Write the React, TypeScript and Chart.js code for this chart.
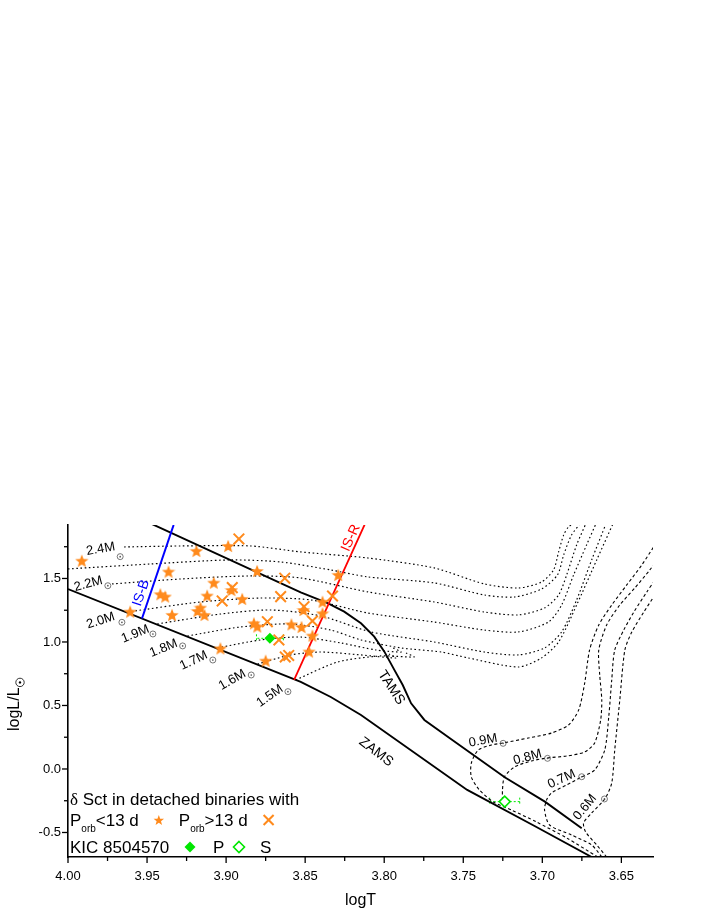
import React, { useEffect, useRef } from 'react';
import { Chart, registerables } from 'chart.js';
Chart.register(...registerables);

// ---------- axis ----------
const xMin = 3.63, xMax = 4.0, yMin = -0.693, yMax = 1.921;
const xTickVals = [3.65, 3.7, 3.75, 3.8, 3.85, 3.9, 3.95, 4.0];
const xTickLabels = ['3.65', '3.70', '3.75', '3.80', '3.85', '3.90', '3.95', '4.00'];
const xMinorVals = [3.675, 3.725, 3.775, 3.825, 3.875, 3.925, 3.975];
const yTickVals = [-0.5, 0, 0.5, 1.0, 1.5];
const yTickLabels = ['-0.5', '0.0', '0.5', '1.0', '1.5'];
const yMinorVals = [-0.25, 0.25, 0.75, 1.25, 1.75];

// ---------- stars: delta Sct in binaries, Porb < 13 d ----------
const starT = [3.9913, 3.9188, 3.8987, 3.8804, 3.9364, 3.9078, 3.9416, 3.9385, 3.912, 3.8898, 3.9162, 3.9181, 3.9342, 3.9137, 3.9607, 3.8824, 3.8803, 3.8587, 3.8523, 3.9036, 3.875, 3.8291, 3.839, 3.8511, 3.839, 3.8454, 3.8475, 3.8966];
const starL = [1.64, 1.717, 1.756, 1.559, 1.554, 1.467, 1.376, 1.358, 1.365, 1.339, 1.27, 1.244, 1.213, 1.213, 1.239, 1.147, 1.122, 1.139, 1.118, 0.95, 0.853, 1.528, 1.317, 1.252, 1.226, 1.05, 0.925, 1.409];
// ---------- crosses: Porb > 13 d ----------
const crossT = [3.8919, 3.8629, 3.8961, 3.9025, 3.8655, 3.8739, 3.8507, 3.8666, 3.8626, 3.8604, 3.8327, 3.8454];
const crossL = [1.811, 1.502, 1.428, 1.323, 1.357, 1.16, 1.278, 1.016, 0.882, 0.894, 1.362, 1.165];
// ---------- KIC 8504570 ----------
const kicPT = [3.8723], kicPL = [1.029], kicPErr = [0.0085];
const kicST = [3.7238], kicSL = [-0.257], kicSErr = [0.0095];

// ---------- ZAMS / TAMS ----------
const zamsT = [4.0, 3.8528, 3.8338, 3.8147, 3.7475, 3.7049, 3.6688];
const zamsL = [1.417, 0.685, 0.567, 0.425, -0.165, -0.449, -0.693];
const tamsT = [3.947, 3.8528, 3.8358, 3.8253, 3.8147, 3.8063, 3.7999, 3.7936, 3.7883, 3.783, 3.7746, 3.7576, 3.7238, 3.6984, 3.6751];
const tamsL = [1.929, 1.391, 1.305, 1.239, 1.147, 1.042, 0.924, 0.78, 0.661, 0.517, 0.386, 0.234, -0.065, -0.257, -0.467];

// ---------- instability strip edges ----------
const isBT = [3.9532, 3.9332], isBL = [1.185, 1.921];
const isRT = [3.857, 3.8122], isRL = [0.701, 1.929];

// ---------- evolutionary tracks (upper, dotted) ----------
const trk24T = [3.9645, 3.9289, 3.8845, 3.8528, 3.8103, 3.7684, 3.7367, 3.7151, 3.7005, 3.6929, 3.6897, 3.6865, 3.6834, 3.6783];
const trk24L = [1.748, 1.756, 1.756, 1.709, 1.661, 1.583, 1.457, 1.425, 1.472, 1.567, 1.709, 1.843, 1.906, 1.945];
const trkXT = [4.0, 3.948, 3.8972, 3.8655, 3.8338, 3.8103, 3.7684, 3.7367, 3.7176, 3.7005, 3.6904, 3.6865, 3.6815, 3.6751];
const trkXL = [1.575, 1.614, 1.646, 1.63, 1.567, 1.512, 1.465, 1.37, 1.354, 1.417, 1.528, 1.685, 1.843, 1.945];
const trk22T = [3.9721, 3.9289, 3.8845, 3.8528, 3.8103, 3.7684, 3.7367, 3.7151, 3.6986, 3.6897, 3.6846, 3.6783, 3.672];
const trk22L = [1.457, 1.496, 1.52, 1.504, 1.394, 1.315, 1.236, 1.213, 1.268, 1.37, 1.528, 1.764, 1.945];
const trk20T = [3.9626, 3.9162, 3.8782, 3.8464, 3.8103, 3.7684, 3.7367, 3.7151, 3.6961, 3.6878, 3.6802, 3.672, 3.6656];
const trk20L = [1.236, 1.315, 1.346, 1.331, 1.228, 1.157, 1.094, 1.079, 1.157, 1.291, 1.528, 1.764, 1.945];
const trk19T = [3.9435, 3.9036, 3.8718, 3.8401, 3.8084, 3.7684, 3.7367, 3.7151, 3.6986, 3.6878, 3.6783, 3.6688, 3.6593];
const trk19L = [1.142, 1.22, 1.252, 1.205, 1.079, 1.0, 0.921, 0.898, 0.953, 1.079, 1.331, 1.646, 1.945];
const trk18T = [3.9245, 3.8909, 3.8591, 3.8338, 3.8147, 3.7893, 3.764, 3.7468, 3.7151, 3.7005, 3.6897, 3.6783, 3.6656, 3.6548];
const trk18L = [1.047, 1.118, 1.142, 1.094, 1.016, 0.953, 0.921, 0.874, 0.803, 0.874, 1.0, 1.291, 1.646, 1.945];
const trk17T = [3.9055, 3.8782, 3.8528, 3.8274, 3.8052, 3.7893, 3.7944];
const trk17L = [0.953, 1.016, 1.039, 0.992, 0.937, 0.921, 0.953];
const trk16T = [3.8801, 3.8591, 3.8401, 3.8147, 3.7925, 3.797];
const trk16L = [0.827, 0.898, 0.921, 0.898, 0.874, 0.906];
const trk15T = [3.856, 3.8293, 3.802, 3.7811, 3.7862];
const trk15L = [0.701, 0.843, 0.89, 0.882, 0.913];

// ---------- low-mass tracks (dashed) ----------
const trk09T = [3.665, 3.6846, 3.7037, 3.7195, 3.731, 3.7398, 3.7449, 3.7449, 3.7405, 3.7322, 3.7246, 3.7088, 3.6942, 3.6834, 3.677, 3.6732, 3.6701, 3.6643, 3.6561, 3.6466, 3.6371, 3.6288];
const trk09L = [-0.693, -0.543, -0.417, -0.323, -0.26, -0.165, -0.063, 0.047, 0.15, 0.189, 0.205, 0.244, 0.283, 0.346, 0.465, 0.677, 0.937, 1.134, 1.291, 1.449, 1.606, 1.764];
const trk08T = [3.7252, 3.7252, 3.724, 3.7176, 3.7069, 3.6967, 3.6846, 3.6732, 3.6669, 3.6631, 3.6624, 3.6637, 3.6643, 3.6593, 3.651, 3.6415, 3.632, 3.6288];
const trk08L = [-0.244, -0.165, -0.063, 0.016, 0.063, 0.087, 0.102, 0.134, 0.205, 0.386, 0.543, 0.74, 0.937, 1.134, 1.291, 1.425, 1.567, 1.622];
const trk07T = [3.6624, 3.6688, 3.6815, 3.6954, 3.6986, 3.6973, 3.6942, 3.6846, 3.6751, 3.6669, 3.6605, 3.658, 3.6561, 3.6542, 3.6485, 3.6421, 3.6339, 3.6288];
const trk07L = [-0.693, -0.598, -0.52, -0.441, -0.323, -0.244, -0.189, -0.126, -0.063, -0.008, 0.15, 0.409, 0.701, 0.937, 1.094, 1.236, 1.394, 1.488];
const trk06T = [3.6593, 3.6656, 3.6726, 3.6739, 3.6688, 3.6605, 3.6561, 3.6542, 3.651, 3.6478, 3.6434, 3.6358, 3.6288];
const trk06L = [-0.693, -0.598, -0.496, -0.425, -0.346, -0.236, -0.11, 0.15, 0.543, 0.937, 1.079, 1.236, 1.37];

// ---------- text annotations ----------
const massLabels = ['2.4M', '2.2M', '2.0M', '1.9M', '1.8M', '1.7M', '1.6M', '1.5M', '0.9M', '0.8M', '0.7M', '0.6M'];
const massLabelT = [3.9793, 3.9871, 3.9793, 3.9575, 3.9395, 3.9205, 3.8961, 3.8723, 3.7375, 3.7094, 3.6878, 3.673];
const massLabelL = [1.732, 1.457, 1.168, 1.063, 0.95, 0.853, 0.701, 0.575, 0.223, 0.092, -0.081, -0.302];
const massLabelAngle = [-10, -15, -18, -22, -22, -25, -30, -35, -10, -15, -25, -50];
const sunT = [3.967, 3.9748, 3.9659, 3.9463, 3.9275, 3.9084, 3.8841, 3.8609, 3.7248, 3.6967, 3.6751, 3.6607];
const sunL = [1.672, 1.443, 1.155, 1.063, 0.969, 0.858, 0.74, 0.609, 0.202, 0.084, -0.061, -0.236];

const FONT = '"Liberation Sans", Arial, Helvetica, sans-serif';
const ORANGE = '#ff8a1c';
const GREEN = '#00e600';

const pts = (t: number[], l: number[]) => t.map((v, i) => ({ x: v, y: l[i] }));

function starPath(ctx: CanvasRenderingContext2D, cx: number, cy: number, R: number) {
  const r = R * 0.42;
  ctx.beginPath();
  for (let i = 0; i < 10; i++) {
    const a = -Math.PI / 2 + (i * Math.PI) / 5;
    const rr = i % 2 ? r : R;
    ctx.lineTo(cx + rr * Math.cos(a), cy + rr * Math.sin(a));
  }
  ctx.closePath();
}

function makeStar(size: number) {
  const c = document.createElement('canvas');
  c.width = size; c.height = size;
  const g = c.getContext('2d')!;
  g.fillStyle = ORANGE;
  starPath(g, size / 2, size / 2 + 0.7, size / 2);
  g.fill();
  return c;
}

function sunSymbol(ctx: CanvasRenderingContext2D, x: number, y: number, r: number, color: string) {
  ctx.save();
  ctx.strokeStyle = color; ctx.fillStyle = color; ctx.lineWidth = 0.8; ctx.setLineDash([]);
  ctx.beginPath(); ctx.arc(x, y, r, 0, Math.PI * 2); ctx.stroke();
  ctx.beginPath(); ctx.arc(x, y, Math.max(0.7, r * 0.28), 0, Math.PI * 2); ctx.fill();
  ctx.restore();
}

const annotPlugin = {
  id: 'annot',
  beforeDatasetsDraw(chart: any) {
    const ctx = chart.ctx, xs = chart.scales.x, ys = chart.scales.y;
    ctx.save();
    ctx.strokeStyle = GREEN; ctx.lineWidth = 1; ctx.setLineDash([2, 2]);
    const bars = [[kicPT, kicPL, kicPErr], [kicST, kicSL, kicSErr]];
    bars.forEach(([t, l, e]) => {
      t.forEach((tv: number, i: number) => {
        const x1 = xs.getPixelForValue(tv - e[i]), x2 = xs.getPixelForValue(tv + e[i]), y = ys.getPixelForValue(l[i]);
        ctx.beginPath(); ctx.moveTo(x1, y); ctx.lineTo(x2, y); ctx.stroke();
        [x1, x2].forEach((xx) => { ctx.beginPath(); ctx.moveTo(xx, y - 4); ctx.lineTo(xx, y + 4); ctx.stroke(); });
      });
    });
    ctx.restore();
  },
  afterDatasetsDraw(chart: any) {
    const ctx = chart.ctx, xs = chart.scales.x, ys = chart.scales.y;
    const P = (t: number, l: number) => [xs.getPixelForValue(t), ys.getPixelForValue(l)];
    ctx.save();
    ctx.textAlign = 'center'; ctx.textBaseline = 'middle';
    const rotText = (txt: string, t: number, l: number, deg: number, font: string, color: string) => {
      const [x, y] = P(t, l);
      ctx.save(); ctx.translate(x, y); ctx.rotate((deg * Math.PI) / 180);
      ctx.font = font; ctx.fillStyle = color; ctx.fillText(txt, 0, 0); ctx.restore();
    };
    massLabels.forEach((m, i) => {
      rotText(m, massLabelT[i], massLabelL[i], massLabelAngle[i], `13px ${FONT}`, '#000');
      const [sx, sy] = P(sunT[i], sunL[i]);
      sunSymbol(ctx, sx, sy, 3, '#555');
    });
    rotText('TAMS', 3.7955, 0.64, 57, `14px ${FONT}`, '#000');
    rotText('ZAMS', 3.8052, 0.134, 37, `14px ${FONT}`, '#000');
    rotText('IS-B', 3.9537, 1.386, -71, `14px ${FONT}`, '#0000ff');
    rotText('IS-R', 3.8211, 1.819, -66, `14px ${FONT}`, '#ff0000');
    ctx.restore();
  },
  afterDraw(chart: any) {
    const ctx = chart.ctx, xs = chart.scales.x, ys = chart.scales.y;
    const { left, bottom } = chart.chartArea;
    ctx.save();
    ctx.strokeStyle = '#000'; ctx.lineWidth = 1.3; ctx.setLineDash([]);
    const tick = (x1: number, y1: number, x2: number, y2: number) => { ctx.beginPath(); ctx.moveTo(x1, y1); ctx.lineTo(x2, y2); ctx.stroke(); };
    xTickVals.forEach((v) => { const x = xs.getPixelForValue(v); tick(x, bottom, x, bottom + 6); });
    xMinorVals.forEach((v) => { const x = xs.getPixelForValue(v); tick(x, bottom, x, bottom + 4); });
    yTickVals.forEach((v) => { const y = ys.getPixelForValue(v); tick(left, y, left - 6, y); });
    yMinorVals.forEach((v) => { const y = ys.getPixelForValue(v); tick(left, y, left - 4, y); });

    // axis titles
    ctx.fillStyle = '#000';
    ctx.font = `16px ${FONT}`; ctx.textAlign = 'center'; ctx.textBaseline = 'alphabetic';
    ctx.fillText('logT', (chart.chartArea.left + chart.chartArea.right) / 2, bottom + 48);
    ctx.save();
    ctx.translate(19, 731); ctx.rotate(-Math.PI / 2);
    ctx.textAlign = 'left';
    ctx.fillText('logL/L', 0, 0);
    const w = ctx.measureText('logL/L').width;
    sunSymbol(ctx, w + 5, 1, 4.2, '#000');
    ctx.restore();

    // legend
    const lx = left + 2;
    ctx.textAlign = 'left'; ctx.textBaseline = 'alphabetic';
    ctx.font = `17px "Liberation Serif", serif`;
    ctx.fillText('δ', lx, bottom - 52);
    const dw = ctx.measureText('δ').width;
    ctx.font = `17px ${FONT}`;
    ctx.fillText(' Sct in detached binaries with', lx + dw, bottom - 52);
    // line 2
    const y2 = bottom - 31.5;
    let x = lx;
    const sub = (base: string, s: string, rest: string) => {
      ctx.font = `17px ${FONT}`; ctx.fillText(base, x, y2); x += ctx.measureText(base).width;
      ctx.font = `10px ${FONT}`; ctx.fillText(s, x, y2 + 6); x += ctx.measureText(s).width;
      ctx.font = `17px ${FONT}`; ctx.fillText(rest, x, y2); x += ctx.measureText(rest).width;
    };
    sub('P', 'orb', '<13 d');
    ctx.fillStyle = ORANGE; starPath(ctx, x + 20, y2 - 5, 5.5); ctx.fill(); ctx.fillStyle = '#000';
    x += 40;
    sub('P', 'orb', '>13 d');
    ctx.strokeStyle = ORANGE; ctx.lineWidth = 2;
    const cx = x + 21, cy = y2 - 5.5;
    tick(cx - 5, cy - 5, cx + 5, cy + 5); tick(cx - 5, cy + 5, cx + 5, cy - 5);
    // line 3
    const y3 = bottom - 4;
    ctx.font = `17px ${FONT}`; ctx.fillStyle = '#000';
    ctx.fillText('KIC 8504570', lx, y3);
    const dm = (px: number, py: number, filled: boolean) => {
      ctx.beginPath(); ctx.moveTo(px, py - 5.5); ctx.lineTo(px + 5.5, py); ctx.lineTo(px, py + 5.5); ctx.lineTo(px - 5.5, py); ctx.closePath();
      if (filled) { ctx.fillStyle = GREEN; ctx.fill(); } else { ctx.strokeStyle = GREEN; ctx.lineWidth = 1.6; ctx.stroke(); }
    };
    dm(left + 122, y3 - 6, true);
    ctx.fillStyle = '#000'; ctx.fillText('P', left + 145, y3);
    dm(left + 171, y3 - 6, false);
    ctx.fillStyle = '#000'; ctx.fillText('S', left + 192, y3);
    ctx.restore();
  },
};

export default function App() {
  const ref = useRef<HTMLCanvasElement>(null);
  useEffect(() => {
    const starImg = makeStar(14);
    const dotted = (t: number[], l: number[]) => ({
      data: pts(t, l), showLine: true, borderColor: '#000', borderWidth: 1.15, borderDash: [1.6, 2.6],
      pointRadius: 0, tension: 0.25, fill: false,
    });
    const dashed = (t: number[], l: number[]) => ({
      data: pts(t, l), showLine: true, borderColor: '#000', borderWidth: 1.1, borderDash: [3, 2.5],
      pointRadius: 0, tension: 0.25, fill: false,
    });
    const solid = (t: number[], l: number[], color: string, w: number) => ({
      data: pts(t, l), showLine: true, borderColor: color, borderWidth: w, pointRadius: 0, tension: 0, fill: false,
    });
    const chart = new Chart(ref.current!, {
      type: 'scatter',
      data: {
        datasets: [
          { data: pts(kicPT, kicPL), pointStyle: 'rectRot', pointRadius: 5.5, backgroundColor: GREEN, borderColor: GREEN, borderWidth: 0 },
          { data: pts(kicST, kicSL), pointStyle: 'rectRot', pointRadius: 5.5, backgroundColor: '#fff', borderColor: GREEN, borderWidth: 1.6 },
          { data: pts(crossT, crossL), pointStyle: 'crossRot', pointRadius: 7.5, borderColor: ORANGE, borderWidth: 2 },
          { data: pts(starT, starL), pointStyle: starImg as any, pointRadius: 7 },
          solid(isBT, isBL, '#0000ff', 2),
          solid(isRT, isRL, '#ff0000', 1.8),
          solid(zamsT, zamsL, '#000', 1.9),
          solid(tamsT, tamsL, '#000', 1.9),
          dotted(trk24T, trk24L), dotted(trkXT, trkXL), dotted(trk22T, trk22L), dotted(trk20T, trk20L),
          dotted(trk19T, trk19L), dotted(trk18T, trk18L), dotted(trk17T, trk17L), dotted(trk16T, trk16L),
          dotted(trk15T, trk15L),
          dashed(trk09T, trk09L), dashed(trk08T, trk08L), dashed(trk07T, trk07L), dashed(trk06T, trk06L),
        ] as any,
      },
      options: {
        responsive: false, animation: false, devicePixelRatio: 1,
        layout: { padding: { top: 525, right: 55, left: 0, bottom: 0 } },
        plugins: { legend: { display: false }, tooltip: { enabled: false } },
        scales: {
          x: {
            type: 'linear', min: xMin, max: xMax, reverse: true,
            grid: { display: false, drawTicks: false },
            border: { display: true, color: '#000', width: 1.6 },
            ticks: { autoSkip: false, maxRotation: 0, padding: 12, color: '#000', font: { family: FONT, size: 13 },
              callback: (v: any) => { const i = xTickVals.findIndex((t) => Math.abs(t - v) < 1e-6); return i >= 0 ? xTickLabels[i] : ''; } },
            afterBuildTicks: (s: any) => { s.ticks = xTickVals.map((v) => ({ value: v })); },
            afterFit: (s: any) => { s.height = 60; },
          },
          y: {
            type: 'linear', min: yMin, max: yMax,
            grid: { display: false, drawTicks: false },
            border: { display: true, color: '#000', width: 1.6 },
            ticks: { autoSkip: false, padding: 7, color: '#000', font: { family: FONT, size: 13 },
              callback: (v: any) => { const i = yTickVals.findIndex((t) => Math.abs(t - v) < 1e-6); return i >= 0 ? yTickLabels[i] : ''; } },
            afterBuildTicks: (s: any) => { s.ticks = yTickVals.map((v) => ({ value: v })); },
            afterFit: (s: any) => { s.width = 68; },
          },
        },
      } as any,
      plugins: [annotPlugin],
    });
    return () => chart.destroy();
  }, []);
  return (
    <div style={{ position: 'absolute', left: 0, top: 0, width: 708, height: 917, background: '#fff' }}>
      <canvas ref={ref} width={708} height={917} style={{ display: 'block', width: 708, height: 917 }} />
    </div>
  );
}
